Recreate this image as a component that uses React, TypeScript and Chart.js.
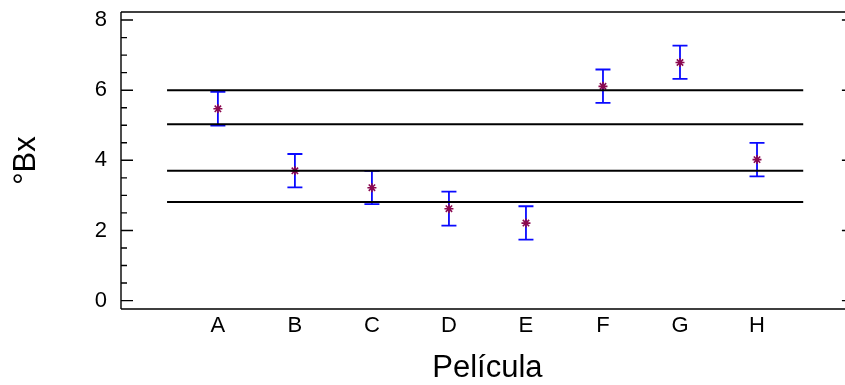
import React, { useEffect, useRef } from "react";
import { Chart, registerables } from "chart.js";

Chart.register(...registerables);

// ---- data ----
const categories = ["A", "B", "C", "D", "E", "F", "G", "H"];
const means = [5.47, 3.70, 3.22, 2.62, 2.21, 6.11, 6.79, 4.02];
const lowerBounds = [4.99, 3.23, 2.75, 2.14, 1.74, 5.64, 6.32, 3.54];
const upperBounds = [5.95, 4.18, 3.70, 3.11, 2.69, 6.59, 7.27, 4.50];
const referenceLines = [6.0, 5.03, 3.70, 2.81];
const referenceLineStart = 0.34;
const referenceLineEnd = 8.6;
const yMajorTicks = [0, 2, 4, 6, 8];
const yMinorTicks = [0.5, 1, 1.5, 2.5, 3, 3.5, 4.5, 5, 5.5, 6.5, 7, 7.5];
const xTitle = "Película";
const yTitle = "°Bx";

const FONT = "'Liberation Sans', Arial, sans-serif";

export default function App() {
  const ref = useRef<HTMLCanvasElement>(null);

  useEffect(() => {
    const canvas = ref.current;
    if (!canvas) return;

    const scatterIndex = referenceLines.length;

    const framePlugin = {
      id: "frame",
      beforeDatasetDraw(chart: any, args: any) {
        if (args.index !== scatterIndex) return;
        const ctx = chart.ctx;
        const xs = chart.scales.x;
        const ys = chart.scales.y;
        ctx.save();
        ctx.strokeStyle = "#0a0aff";
        ctx.lineWidth = 1.8;
        const cap = 7.5;
        means.forEach((_, i) => {
          const x = xs.getPixelForValue(i + 1);
          const yl = ys.getPixelForValue(lowerBounds[i]);
          const yu = ys.getPixelForValue(upperBounds[i]);
          ctx.beginPath();
          ctx.moveTo(x, yu);
          ctx.lineTo(x, yl);
          ctx.moveTo(x - cap, yu);
          ctx.lineTo(x + cap, yu);
          ctx.moveTo(x - cap, yl);
          ctx.lineTo(x + cap, yl);
          ctx.stroke();
        });
        ctx.restore();
      },
      afterDraw(chart: any) {
        const ctx = chart.ctx;
        const ys = chart.scales.y;
        const { left, right, top, bottom } = chart.chartArea;
        ctx.save();
        ctx.strokeStyle = "#000";
        ctx.lineWidth = 1.4;
        ctx.beginPath();
        ctx.moveTo(left, top);
        ctx.lineTo(right, top);
        ctx.moveTo(left, bottom);
        ctx.lineTo(right, bottom);
        ctx.moveTo(left, top);
        ctx.lineTo(left, bottom);
        ctx.moveTo(right, top);
        ctx.lineTo(right, bottom);
        yMajorTicks.forEach((v) => {
          const y = ys.getPixelForValue(v);
          ctx.moveTo(left, y);
          ctx.lineTo(left + 12, y);
          ctx.moveTo(right, y);
          ctx.lineTo(right - 12, y);
        });
        yMinorTicks.forEach((v) => {
          const y = ys.getPixelForValue(v);
          ctx.moveTo(left, y);
          ctx.lineTo(left + 6, y);
          ctx.moveTo(right, y);
          ctx.lineTo(right - 6, y);
        });
        ctx.stroke();
        ctx.restore();
      },
    };

    const lineDatasets = referenceLines.map((v) => ({
      type: "line" as const,
      data: [
        { x: referenceLineStart, y: v },
        { x: referenceLineEnd, y: v },
      ],
      borderColor: "#000",
      borderWidth: 2,
      pointRadius: 0,
      fill: false,
    }));

    const chart = new Chart(canvas, {
      type: "scatter",
      data: {
        datasets: [
          ...lineDatasets,
          {
            type: "scatter" as const,
            data: means.map((m, i) => ({ x: i + 1, y: m })),
            pointStyle: "star",
            radius: 4.5,
            borderColor: "#8b0a50",
            backgroundColor: "#8b0a50",
            borderWidth: 1.6,
          },
        ],
      } as any,
      plugins: [framePlugin],
      options: {
        responsive: false,
        animation: false,
        layout: { padding: { top: 12, right: 5, bottom: 0, left: 0 } },
        plugins: { legend: { display: false }, tooltip: { enabled: false } },
        scales: {
          x: {
            type: "linear",
            min: -0.258,
            max: 9.258,
            grid: { display: false, drawTicks: false },
            border: { display: false },
            afterBuildTicks: (scale: any) => {
              scale.ticks = categories.map((_, i) => ({ value: i + 1 }));
            },
            afterFit: (scale: any) => {
              scale.height = 76;
              scale.paddingLeft = 0;
              scale.paddingRight = 0;
            },
            ticks: {
              autoSkip: false,
              maxRotation: 0,
              padding: 4,
              color: "#000",
              font: { family: FONT, size: 22 },
              callback: (v: any) => categories[Math.round(Number(v)) - 1] ?? "",
            },
            title: {
              display: true,
              text: xTitle,
              color: "#000",
              font: { family: FONT, size: 31 },
              padding: { top: 0, bottom: -2 },
            },
          },
          y: {
            type: "linear",
            min: -0.24,
            max: 8.23,
            grid: { display: false, drawTicks: false },
            border: { display: false },
            afterBuildTicks: (scale: any) => {
              scale.ticks = yMajorTicks.map((v) => ({ value: v }));
            },
            afterFit: (scale: any) => {
              scale.width = 121;
              scale.paddingTop = 0;
              scale.paddingBottom = 0;
            },
            ticks: {
              padding: 14,
              color: "#000",
              font: { family: FONT, size: 22 },
            },
            title: {
              display: true,
              text: yTitle,
              color: "#000",
              font: { family: FONT, size: 31 },
              padding: { top: 8, bottom: 0 },
            },
          },
        },
      } as any,
    });

    return () => chart.destroy();
  }, []);

  return (
    <div style={{ position: "fixed", left: 0, top: 0, width: 860, height: 385, background: "#fff" }}>
      <canvas ref={ref} width={860} height={385} style={{ width: 860, height: 385, display: "block" }} />
    </div>
  );
}
